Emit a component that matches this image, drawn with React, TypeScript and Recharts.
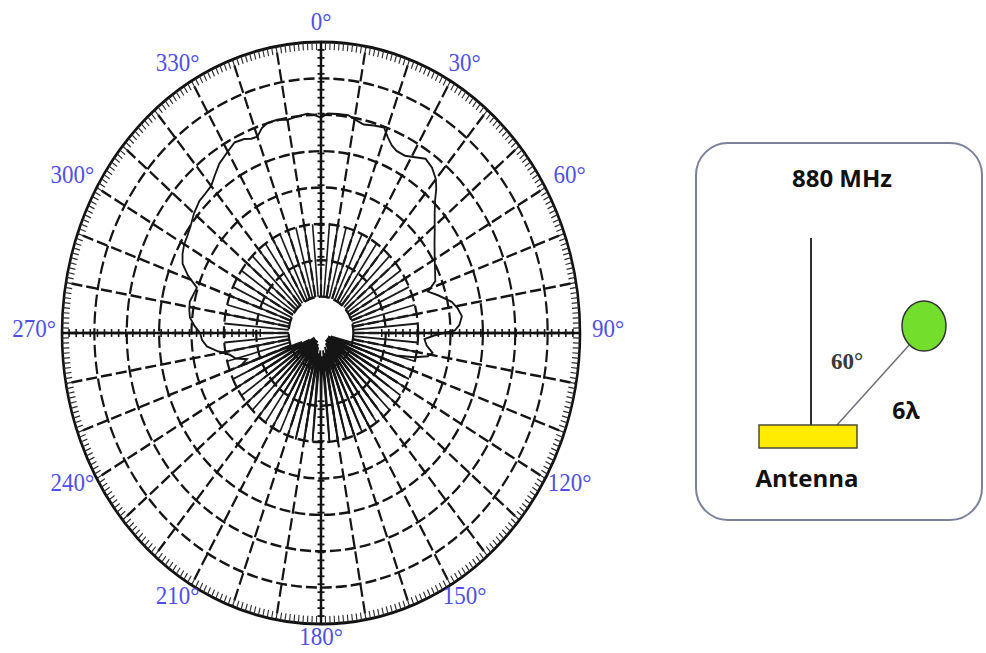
import React from "react";
import { RadarChart, Radar, PolarGrid, PolarAngleAxis, PolarRadiusAxis } from "recharts";

// radiation pattern: bearing in degrees (clockwise, 0° at top)
// and relative level (0 = centre, 1 = outer ring)
const bearings = [
  0, 2, 5, 8, 11, 13, 16, 19, 21, 23, 25, 28, 31, 34, 37, 40, 42, 44, 47, 51, 55, 60, 64, 68,
  71, 74, 78, 81, 84, 87, 89, 91, 93, 96, 99, 101, 103,
  105, 107.5, 110, 112.5, 115, 117.5, 120, 122.5, 125, 127.5, 130, 132.5, 135, 137.5, 140,
  142.5, 145, 147.5, 150, 152.5, 155, 157.5, 160, 162.5, 165, 167.5, 170, 172.5, 175, 177.5,
  180, 182.5, 185, 187.5, 190, 192.5, 195, 197.5, 200, 202.5, 205, 207.5, 210, 212.5, 215,
  217.5, 220, 222.5, 225, 227.5, 230, 232.5, 235, 237.5, 240, 242.5, 245, 247.5, 250, 252.5, 255,
  258, 261, 264, 267, 270, 273, 276, 279, 282, 285, 288, 291, 294, 297, 300, 303, 306, 310,
  314, 317, 320, 323, 326, 330, 333, 336, 338, 340, 342, 344, 347, 350, 353, 356, 358,
];
const levels = [
  0.74, 0.755, 0.755, 0.756, 0.742, 0.735, 0.742, 0.747, 0.72, 0.7, 0.69, 0.69, 0.705, 0.722,
  0.712, 0.69, 0.665, 0.634, 0.6, 0.565, 0.535, 0.507, 0.49, 0.476,
  0.437, 0.47, 0.516, 0.535, 0.547, 0.535, 0.517, 0.44, 0.4, 0.41, 0.436, 0.42, 0.37,
  0.3, 0.04, 0.33, 0.03, 0.36, 0.05, 0.34, 0.03, 0.32, 0.04, 0.3, 0.03, 0.31, 0.04, 0.33,
  0.03, 0.35, 0.05, 0.37, 0.04, 0.36, 0.06, 0.37, 0.05, 0.37, 0.07, 0.37, 0.06, 0.37, 0.08,
  0.37, 0.06, 0.37, 0.07, 0.36, 0.05, 0.38, 0.04, 0.34, 0.05, 0.3, 0.03, 0.27, 0.04, 0.25,
  0.03, 0.24, 0.04, 0.26, 0.03, 0.28, 0.04, 0.27, 0.03, 0.29, 0.05, 0.31, 0.08, 0.33, 0.3, 0.34,
  0.36, 0.403, 0.443, 0.46, 0.467, 0.49, 0.509, 0.515, 0.518, 0.51, 0.504, 0.55, 0.585, 0.6,
  0.61, 0.615, 0.623, 0.64, 0.653, 0.655, 0.66, 0.68, 0.702, 0.72, 0.735, 0.73, 0.72, 0.718,
  0.74, 0.751, 0.752, 0.744, 0.75, 0.755, 0.75,
];

const angleLabels = [0, 30, 60, 90, 120, 150, 180, 210, 240, 270, 300, 330];
const ringLevels = [0.125, 0.25, 0.375, 0.5, 0.625, 0.75, 0.875];
const rulerBearings = [0, 90, 180, 270];

const patternData = bearings.map((b, i) => ({ bearing: b, level: levels[i] }));

const SIZE = 640;
const C = SIZE / 2;
const R = 259;
const STRETCH = 1.1236;
const NO_MARGIN = { top: 0, right: 0, bottom: 0, left: 0 };

const toChartAngle = (b: number) => 90 - b;
const spokes10 = Array.from({ length: 36 }, (_, i) => toChartAngle(i * 10));
const spokes5 = Array.from({ length: 72 }, (_, i) => toChartAngle(i * 5));
const spokes1 = Array.from({ length: 360 }, (_, i) => toChartAngle(i));
const rulerTicks = Array.from({ length: 29 }, (_, i) => 0.125 + i / 32);

const Layer = ({ children }: { children: React.ReactNode }) => (
  <div
    style={{
      position: "absolute",
      left: 321 - C,
      top: 333 - C,
      width: SIZE,
      height: SIZE,
      transform: `scaleY(${STRETCH})`,
      transformOrigin: `${C}px ${C}px`,
    }}
  >
    {children}
  </div>
);

const HiddenAngleAxis = () => (
  <PolarAngleAxis dataKey="bearing" type="number" domain={[0, 360]} tick={false} axisLine={false} tickLine={false} />
);

const renderAngleLabel = (props: any) => {
  const { x, y, payload } = props;
  if (payload.value === 360) return <g />;
  // labels sit a little closer vertically than horizontally in the scan
  const ly = C + (y - C) * 0.955 - 4;
  return (
    <text
      x={x}
      y={ly}
      textAnchor="middle"
      dominantBaseline="central"
      fontFamily="Liberation Serif, serif"
      fontSize={23}
      fill="#4f4fe6"
    >
      {payload.value}°
    </text>
  );
};

const rulerTick = (chartAngle: number) => (props: any) => {
  const { x, y } = props;
  const rad = (chartAngle * Math.PI) / 180;
  const h = 3.5;
  const sx = Math.sin(rad) * h;
  const sy = Math.cos(rad) * h;
  return <line x1={x - sx} y1={y - sy} x2={x + sx} y2={y + sy} stroke="#151515" strokeWidth={1.6} />;
};

export default function App() {
  return (
    <div style={{ position: "absolute", left: 0, top: 0, width: 986, height: 653, background: "#fff", overflow: "hidden" }}>
      {/* rings and 10° spokes */}
      <Layer>
        <RadarChart width={SIZE} height={SIZE} cx={C} cy={C} innerRadius={R / 8} outerRadius={R} data={patternData} margin={NO_MARGIN}>
          <HiddenAngleAxis />
          <PolarGrid
            gridType="circle"
            polarAngles={spokes10}
            polarRadius={ringLevels.map((v) => v * R)}
            stroke="#141414"
            strokeWidth={2.2}
            strokeDasharray="11 4"
          />
          <PolarGrid gridType="circle" polarAngles={[]} polarRadius={[R]} radialLines={false} stroke="#111" strokeWidth={2.6} />
        </RadarChart>
      </Layer>

      {/* dense 5° spokes near the centre */}
      <Layer>
        <RadarChart width={SIZE} height={SIZE} cx={C} cy={C} innerRadius={R / 8} outerRadius={(R * 3) / 8} data={patternData} margin={NO_MARGIN}>
          <HiddenAngleAxis />
          <PolarGrid gridType="circle" polarAngles={spokes5} polarRadius={[]} stroke="#1a1a1a" strokeWidth={1.6} />
        </RadarChart>
      </Layer>

      {/* degree ticks round the rim */}
      <Layer>
        <RadarChart width={SIZE} height={SIZE} cx={C} cy={C} innerRadius={R - 7} outerRadius={R} data={patternData} margin={NO_MARGIN}>
          <HiddenAngleAxis />
          <PolarGrid gridType="circle" polarAngles={spokes1} polarRadius={[]} stroke="#2a2a2a" strokeWidth={1.1} />
        </RadarChart>
      </Layer>

      {/* rulers on the main axes */}
      <Layer>
        <RadarChart width={SIZE} height={SIZE} cx={C} cy={C} innerRadius={R / 8} outerRadius={R} data={patternData} margin={NO_MARGIN}>
          <HiddenAngleAxis />
          {rulerBearings.map((b, i) => (
            <PolarRadiusAxis
              key={b}
              radiusAxisId={i}
              angle={toChartAngle(b)}
              type="number"
              domain={[0.125, 1]}
              allowDataOverflow
              ticks={rulerTicks}
              tickCount={29}
              axisLine={{ stroke: "#111", strokeWidth: 2.4 }}
              tick={rulerTick(toChartAngle(b))}
            />
          ))}
        </RadarChart>
      </Layer>

      {/* pattern and labels */}
      <Layer>
        <RadarChart
          width={SIZE}
          height={SIZE}
          cx={C}
          cy={C}
          innerRadius={0}
          outerRadius={R}
          startAngle={90}
          endAngle={-270}
          data={patternData}
          margin={NO_MARGIN}
        >
          <PolarAngleAxis
            dataKey="bearing"
            type="number"
            domain={[0, 360]}
            ticks={angleLabels}
            tickCount={13}
            tick={renderAngleLabel}
            tickLine={false}
            axisLine={false}
            tickSize={28}
          />
          <PolarRadiusAxis type="number" domain={[0, 1]} tick={false} axisLine={false} />
          <Radar
            dataKey="level"
            stroke="#151515"
            strokeWidth={1.8}
            fill="none"
            fillOpacity={0}
            dot={false}
            isAnimationActive={false}
          />
        </RadarChart>
      </Layer>

      {/* setup sketch */}
      <svg width={986} height={653} style={{ position: "absolute", left: 0, top: 0, pointerEvents: "none" }}>
        <rect x={696} y={143} width={286} height={377} rx={32} fill="#fff" stroke="#7c8198" strokeWidth={2} />
        <text x={842} y={187} textAnchor="middle" fontFamily="Open Sans" fontWeight={700} fontSize={24} fill="#111">
          880 MHz
        </text>
        <line x1={811} y1={238} x2={811} y2={426} stroke="#2f2f3a" strokeWidth={2} />
        <line x1={837} y1={425} x2={911} y2={343} stroke="#6f6f7a" strokeWidth={1.5} />
        <ellipse cx={924} cy={326} rx={22} ry={25} fill="#74de2c" stroke="#333" strokeWidth={1.5} />
        <rect x={759} y={425} width={98} height={23} fill="#ffec00" stroke="#4a4a3a" strokeWidth={1.5} />
        <text x={847} y={369} textAnchor="middle" fontFamily="Liberation Serif, serif" fontWeight={700} fontSize={23} fill="#3a3a3a">
          60°
        </text>
        <text x={906} y={419} textAnchor="middle" fontFamily="Open Sans" fontWeight={700} fontSize={23} fill="#111">
          6λ
        </text>
        <text x={807} y={487} textAnchor="middle" fontFamily="Open Sans" fontWeight={700} fontSize={24} fill="#111">
          Antenna
        </text>
      </svg>
    </div>
  );
}
